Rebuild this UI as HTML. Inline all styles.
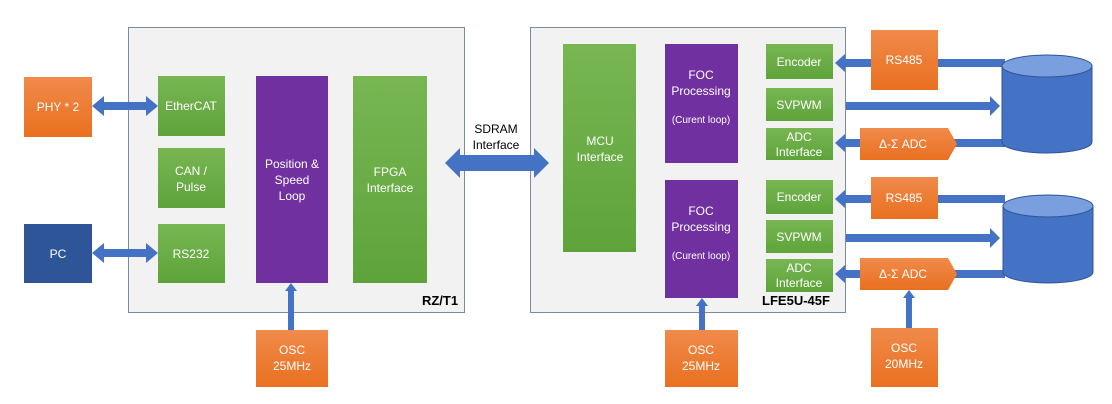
<!DOCTYPE html>
<html><head><meta charset="utf-8"><style>
body{margin:0;background:#fff}
svg{display:block}
text{font-family:"Liberation Sans",sans-serif;fill:#fff;font-size:12px;text-anchor:middle}
</style></head><body>
<svg width="1112" height="404" viewBox="0 0 1112 404" xmlns="http://www.w3.org/2000/svg">
<defs>
<linearGradient id="g" x1="0" y1="0" x2="0" y2="1"><stop offset="0" stop-color="#78b652"/><stop offset="1" stop-color="#5ea33a"/></linearGradient>
<linearGradient id="o" x1="0" y1="0" x2="0" y2="1"><stop offset="0" stop-color="#f08a4b"/><stop offset="1" stop-color="#e9701f"/></linearGradient>
</defs>
<!-- big boxes -->
<rect x="128.5" y="27.5" width="336" height="285" fill="#f2f2f2" stroke="#7a8aa6"/>
<rect x="530.5" y="27.5" width="315" height="285" fill="#f2f2f2" stroke="#7a8aa6"/>
<text x="440" y="305" style="fill:#000;font-weight:bold;font-size:13px">RZ/T1</text>
<text x="796" y="305" style="fill:#000;font-weight:bold;font-size:13px">LFE5U-45F</text>

<g fill="#4472c4">
<!-- PHY arrow -->
<polygon points="92,106 104,96 104,102 146,102 146,96 158,106 146,116 146,110 104,110 104,116"/>
<polygon points="92,253 104,243 104,249 146,249 146,243 158,253 146,263 146,257 104,257 104,263"/>
<!-- SDRAM -->
<polygon points="445,163 460,148 460,155 534,155 534,148 549,163 534,178 534,171 460,171 460,178"/>
<!-- OSC arrows -->
<polygon points="291,283 297,291 294,291 294,330 288,330 288,291 285,291"/>
<polygon points="702,298 708,306 705,306 705,330 699,330 699,306 696,306"/>
<polygon points="909,290 915,298 912,298 912,328 906,328 906,298 903,298"/>
<!-- right arrows set 1 -->
<polygon points="835,63 845,54 845,59 1005,59 1005,67 845,67 845,72"/>
<polygon points="1000,106 990,96 990,102 846,102 846,110 990,110 990,116"/>
<polygon points="835,143 845,134 845,139 1005,139 1005,147 845,147 845,152"/>
<!-- set 2 -->
<polygon points="835,199 845,190 845,195 1005,195 1005,203 845,203 845,208"/>
<polygon points="1000,238 990,228 990,234 846,234 846,242 990,242 990,248"/>
<polygon points="835,274 845,265 845,270 1005,270 1005,278 845,278 845,283"/>
</g>

<!-- cylinders -->
<g stroke="#2f5597" stroke-width="1">
<path d="M1002,66 V142 A45,11 0 0 0 1092,142 V66" fill="#4472c4"/>
<ellipse cx="1047" cy="66" rx="45" ry="11" fill="#7a9fde"/>
<path d="M1003,206 V272 A45,11 0 0 0 1093,272 V206" fill="#4472c4"/>
<ellipse cx="1048" cy="206" rx="45" ry="11" fill="#7a9fde"/>
</g>

<!-- left -->
<rect x="24" y="77" width="68" height="60" fill="url(#o)"/><text x="58" y="111">PHY * 2</text>
<rect x="24" y="224" width="68" height="59" fill="#2e5597"/><text x="58" y="258">PC</text>
<rect x="158" y="76" width="67" height="60" fill="url(#g)"/><text x="191" y="110">EtherCAT</text>
<rect x="158" y="148" width="67" height="60" fill="url(#g)"/><text x="191" y="175">CAN /</text><text x="191" y="191">Pulse</text>
<rect x="158" y="224" width="67" height="59" fill="url(#g)"/><text x="191" y="258">RS232</text>
<rect x="256" y="76" width="72" height="207" fill="#7030a0"/><text x="292" y="168">Position &amp;</text><text x="292" y="184">Speed</text><text x="292" y="200">Loop</text>
<rect x="353" y="76" width="74" height="207" fill="url(#g)"/><text x="390" y="176">FPGA</text><text x="390" y="192">Interface</text>
<rect x="256" y="330" width="72" height="57" fill="url(#o)"/><text x="292" y="354">OSC</text><text x="292" y="370">25MHz</text>
<text x="496" y="133" style="fill:#000">SDRAM</text><text x="496" y="149" style="fill:#000">Interface</text>

<!-- right -->
<rect x="563" y="44" width="73" height="208" fill="url(#g)"/><text x="600" y="145">MCU</text><text x="600" y="161">Interface</text>
<rect x="665" y="44" width="73" height="119" fill="#7030a0"/><text x="701" y="79">FOC</text><text x="701" y="95">Processing</text><text x="701" y="123" style="font-size:10px">(Curent loop)</text>
<rect x="665" y="180" width="73" height="118" fill="#7030a0"/><text x="701" y="215">FOC</text><text x="701" y="231">Processing</text><text x="701" y="259" style="font-size:10px">(Curent loop)</text>
<rect x="766" y="44" width="67" height="35" fill="url(#g)"/><text x="799" y="66">Encoder</text>
<rect x="766" y="88" width="67" height="33" fill="url(#g)"/><text x="799" y="109">SVPWM</text>
<rect x="766" y="128" width="67" height="32" fill="url(#g)"/><text x="799" y="141">ADC</text><text x="799" y="156">Interface</text>
<rect x="766" y="180" width="67" height="34" fill="url(#g)"/><text x="799" y="201">Encoder</text>
<rect x="766" y="220" width="67" height="33" fill="url(#g)"/><text x="799" y="241">SVPWM</text>
<rect x="766" y="259" width="67" height="33" fill="url(#g)"/><text x="799" y="272">ADC</text><text x="799" y="287">Interface</text>
<rect x="871" y="30" width="67" height="60" fill="url(#o)"/><text x="904" y="64">RS485</text>
<rect x="871" y="177" width="67" height="42" fill="url(#o)"/><text x="904" y="202">RS485</text>
<polygon points="860,128 948,128 957,144 948,160 860,160" fill="url(#o)"/><text x="903" y="148">Δ-Σ ADC</text>
<polygon points="860,258 948,258 957,274 948,290 860,290" fill="url(#o)"/><text x="903" y="278">Δ-Σ ADC</text>
<rect x="665" y="330" width="73" height="57" fill="url(#o)"/><text x="701" y="354">OSC</text><text x="701" y="370">25MHz</text>
<rect x="871" y="328" width="67" height="59" fill="url(#o)"/><text x="904" y="352">OSC</text><text x="904" y="368">20MHz</text>
</svg>
</body></html>
